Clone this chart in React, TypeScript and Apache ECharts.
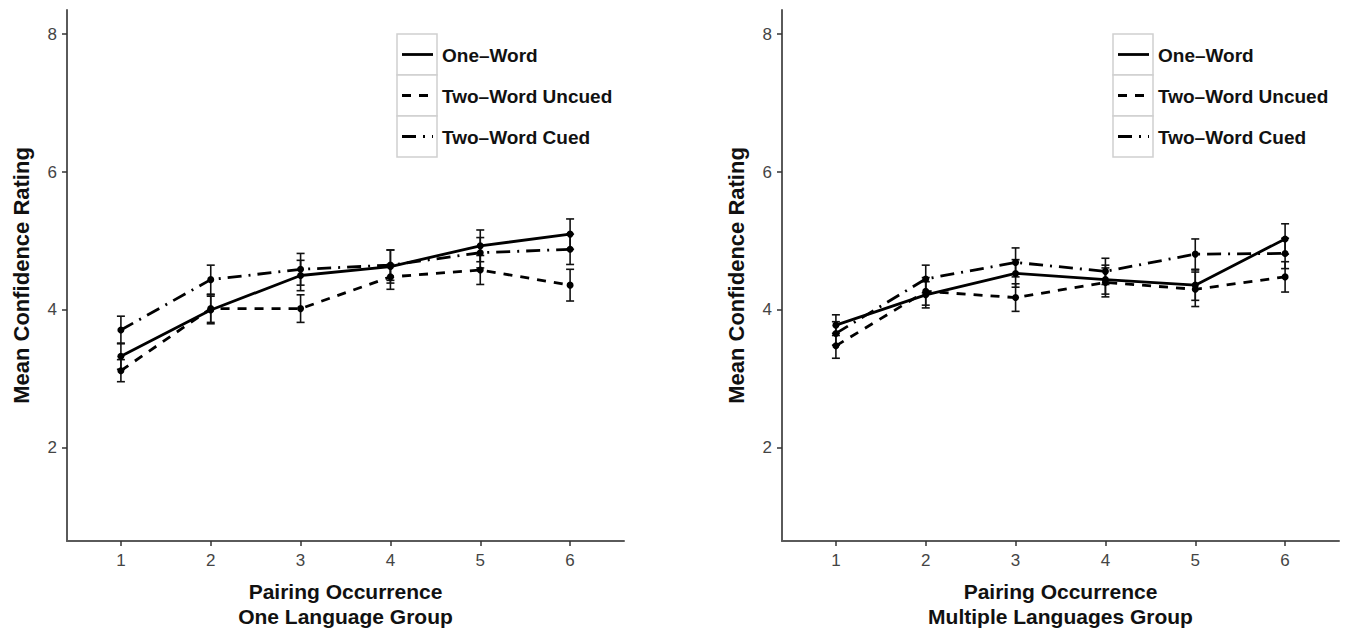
import React, { useEffect, useRef } from 'react';
import * as echarts from 'echarts';

const occurrences = [1, 2, 3, 4, 5, 6];
const yTicks = [2, 4, 6, 8];
const seriesNames = ['One–Word', 'Two–Word Uncued', 'Two–Word Cued'];
const xTitle = 'Pairing Occurrence';
const yTitle = 'Mean Confidence Rating';
const groupNames = ['One Language Group', 'Multiple Languages Group'];

// One Language Group
const oneOneWord = [3.33, 4.0, 4.5, 4.63, 4.93, 5.1];
const oneUncued = [3.12, 4.02, 4.02, 4.48, 4.58, 4.36];
const oneCued = [3.71, 4.44, 4.59, 4.65, 4.83, 4.88];
const oneOneWordSE = [0.19, 0.2, 0.22, 0.24, 0.23, 0.22];
const oneUncuedSE = [0.16, 0.2, 0.2, 0.18, 0.21, 0.23];
const oneCuedSE = [0.2, 0.21, 0.23, 0.22, 0.22, 0.22];

// Multiple Languages Group
const multiOneWord = [3.78, 4.22, 4.53, 4.44, 4.36, 5.03];
const multiUncued = [3.48, 4.27, 4.18, 4.4, 4.3, 4.48];
const multiCued = [3.66, 4.45, 4.69, 4.56, 4.81, 4.82];
const multiOneWordSE = [0.15, 0.19, 0.2, 0.21, 0.22, 0.22];
const multiUncuedSE = [0.18, 0.2, 0.2, 0.21, 0.25, 0.22];
const multiCuedSE = [0.17, 0.2, 0.21, 0.19, 0.22, 0.22];

const panels = [
  { means: [oneOneWord, oneUncued, oneCued], ses: [oneOneWordSE, oneUncuedSE, oneCuedSE] },
  { means: [multiOneWord, multiUncued, multiCued], ses: [multiOneWordSE, multiUncuedSE, multiCuedSE] },
];

const dashes: any[] = ['solid', [9, 8], [14, 7, 2, 7]];
const FONT = 'Liberation Sans, Arial, Helvetica, sans-serif';

export default function App() {
  const ref = useRef<HTMLDivElement>(null);
  useEffect(() => {
    if (!ref.current) return;
    const chart = echarts.init(ref.current, null, { renderer: 'svg' });
    const grids = [
      { left: 67, right: 737, top: 10, bottom: 92, outerBoundsMode: 'none' },
      { left: 782, right: 22, top: 10, bottom: 92, outerBoundsMode: 'none' },
    ];
    const axisLine = { show: true, lineStyle: { color: '#5a5a5a', width: 2 } };
    const axisTick = { show: true, length: 5, lineStyle: { color: '#333', width: 1.5 } };
    const xAxes = grids.map((_, i) => ({
      type: 'value',
      gridIndex: i,
      min: 0.4,
      max: 6.6,
      axisLine,
      axisTick: { ...axisTick, customValues: occurrences },
      axisLabel: { customValues: occurrences, color: '#444', fontSize: 17, margin: 11, fontFamily: FONT },
      splitLine: { show: false },
      name: xTitle + '\n' + groupNames[i],
      nameLocation: 'middle',
      nameGap: 38,
      nameTextStyle: { color: '#111', fontSize: 21, fontWeight: 'bold', lineHeight: 25, fontFamily: FONT },
    }));
    const yAxes = grids.map((_, i) => ({
      type: 'value',
      gridIndex: i,
      min: 0.65,
      max: 8.35,
      axisLine,
      axisTick: { ...axisTick, customValues: yTicks },
      axisLabel: { customValues: yTicks, color: '#444', fontSize: 17, margin: 10, fontFamily: FONT },
      splitLine: { show: false },
      name: yTitle,
      nameLocation: 'middle',
      nameGap: 35,
      nameRotate: 90,
      nameTextStyle: { color: '#111', fontSize: 22, fontWeight: 'bold', fontFamily: FONT },
    }));

    const series: any[] = [];
    panels.forEach((p, pi) => {
      p.means.forEach((vals, si) => {
        series.push({
          type: 'custom',
          name: seriesNames[si] + ' SE',
          xAxisIndex: pi,
          yAxisIndex: pi,
          clip: false,
          data: occurrences.map((x, k) => [x, vals[k] - p.ses[si][k], vals[k] + p.ses[si][k]]),
          encode: { x: 0, y: [1, 2] },
          renderItem: (params: any, api: any) => {
            const x = api.value(0);
            const lo = api.coord([x, api.value(1)]);
            const hi = api.coord([x, api.value(2)]);
            const w = 4;
            const style = { stroke: '#111', lineWidth: 1.6 };
            return {
              type: 'group',
              children: [
                { type: 'line', shape: { x1: lo[0], y1: lo[1], x2: hi[0], y2: hi[1] }, style },
                { type: 'line', shape: { x1: lo[0] - w, y1: lo[1], x2: lo[0] + w, y2: lo[1] }, style },
                { type: 'line', shape: { x1: hi[0] - w, y1: hi[1], x2: hi[0] + w, y2: hi[1] }, style },
              ],
            };
          },
        });
        series.push({
          type: 'line',
          name: seriesNames[si],
          xAxisIndex: pi,
          yAxisIndex: pi,
          data: occurrences.map((x, k) => [x, vals[k]]),
          symbol: 'circle',
          symbolSize: 7,
          itemStyle: { color: '#000' },
          lineStyle: { color: '#000', width: 2.8, type: dashes[si] },
          silent: true,
        });
      });
    });

    const legendGraphic = (x0: number, y0: number) => {
      const rowH = 41;
      const children: any[] = [];
      seriesNames.forEach((name, i) => {
        const y = y0 + i * rowH;
        children.push({
          type: 'rect',
          shape: { x: x0, y, width: 40, height: rowH },
          style: { fill: '#fff', stroke: '#d0d0d0', lineWidth: 1.5 },
        });
        children.push({
          type: 'line',
          shape: { x1: x0 + 5, y1: y + rowH / 2, x2: x0 + 36, y2: y + rowH / 2 },
          style: {
            stroke: '#000',
            lineWidth: 2.8,
            lineDash: dashes[i] === 'solid' ? null : dashes[i],
          },
        });
        children.push({
          type: 'text',
          x: x0 + 45,
          y: y + rowH / 2 + 1,
          style: {
            text: name,
            fill: '#111',
            fontSize: 19,
            fontWeight: 'bold',
            fontFamily: FONT,
            verticalAlign: 'middle',
            textAlign: 'left',
          },
        });
      });
      return { type: 'group', children };
    };

    chart.setOption({
      animation: false,
      backgroundColor: '#fff',
      grid: grids,
      xAxis: xAxes,
      yAxis: yAxes,
      series,
      graphic: [legendGraphic(397, 34), legendGraphic(1113, 34)],
    });
    return () => chart.dispose();
  }, []);
  return (
    <div
      ref={ref}
      style={{ position: 'fixed', left: 0, top: 0, width: 1361, height: 633, background: '#fff' }}
    />
  );
}
